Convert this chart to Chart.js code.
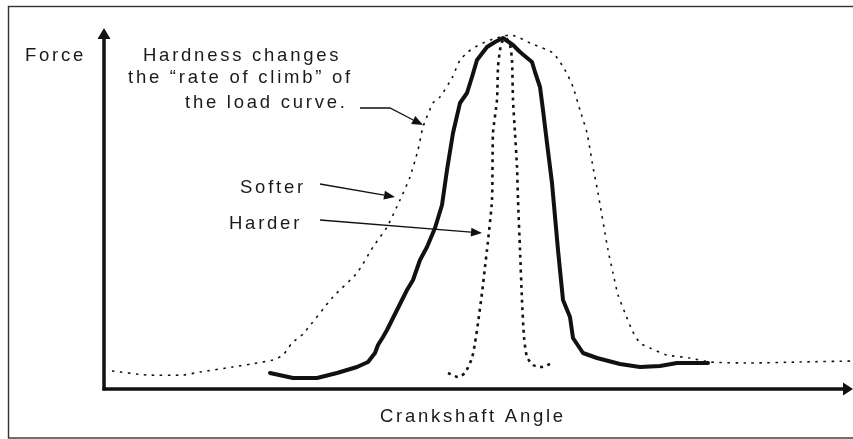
<!DOCTYPE html>
<html>
<head>
<meta charset="utf-8">
<script src="https://cdn.jsdelivr.net/npm/chart.js@4"></script>
<style>
  html, body { margin: 0; padding: 0; background: #fff; }
  canvas { display: block; }
</style>
</head>
<body>
<canvas id="chartLoad" width="853" height="439"></canvas>
<script>
// angle = distance along the crankshaft axis, force = height above it (arbitrary units)
const softerAngle = [8, 43, 79, 96, 129, 153, 169, 179, 188, 199, 229, 253, 269, 283, 296, 306, 314, 319, 329, 336, 348, 356, 364, 371, 379, 389, 406, 416, 426, 449, 461, 469, 476, 483, 489, 494, 504, 509, 514, 521, 528, 536, 546, 563, 586, 606, 646, 696, 749];
const softerForce = [18, 14, 14, 17, 22, 26, 29, 34, 46, 55, 92, 116, 142, 162, 189, 212, 239, 262, 286, 292, 311, 329, 337, 342, 346, 350, 354, 351, 346, 336, 319, 302, 279, 256, 222, 196, 139, 116, 94, 76, 59, 46, 41, 34, 31, 27, 26, 27, 28];

const normalAngle = [166, 189, 213, 233, 253, 264, 271, 274, 279, 283, 293, 303, 309, 316, 323, 331, 338, 343, 349, 356, 363, 368, 373, 383, 391, 399, 409, 416, 428, 431, 436, 439, 443, 448, 454, 459, 466, 469, 479, 493, 516, 536, 556, 573, 604];
const normalForce = [16, 11, 11, 16, 22, 27, 36, 44, 52, 59, 79, 99, 109, 129, 142, 161, 184, 219, 256, 286, 296, 312, 329, 342, 347, 351, 344, 337, 327, 317, 302, 279, 246, 206, 139, 89, 72, 51, 36, 31, 25, 22, 23, 26, 26];

const harderAngle = [344, 354, 361, 368, 371, 374, 378, 381, 383, 388, 389, 393, 394, 396, 398, 402, 406, 408, 409, 411, 413, 414, 416, 418, 420, 423, 429, 438, 446];
const harderForce = [16, 12, 16, 31, 46, 66, 96, 122, 139, 189, 256, 289, 322, 339, 347, 351, 344, 329, 289, 256, 222, 189, 139, 89, 52, 32, 24, 22, 25];

const axisLabels = ["Force", "Crankshaft Angle"];
const noteLines = ["Hardness changes", "the \u201crate of climb\u201d of", "the load curve."];
const curveLabels = ["Softer", "Harder"];

const toPoints = (xs, ys) => xs.map((x, i) => ({ x: x, y: ys[i] }));

const ink = "#111";
const FONT = '18.5px "Liberation Sans", Arial, sans-serif';

function spacedText(ctx, text, x, y, spacing) {
  let cx = x;
  for (const ch of text) {
    ctx.fillText(ch, cx, y);
    cx += ctx.measureText(ch).width + spacing;
  }
}

function arrow(ctx, pts, len, half, width) {
  ctx.lineWidth = width;
  ctx.beginPath();
  const n = pts.length;
  const tip = pts[n - 1], prev = pts[n - 2];
  const ang = Math.atan2(tip[1] - prev[1], tip[0] - prev[0]);
  const bx = tip[0] - Math.cos(ang) * len, by = tip[1] - Math.sin(ang) * len;
  ctx.moveTo(pts[0][0], pts[0][1]);
  for (let i = 1; i < n - 1; i++) ctx.lineTo(pts[i][0], pts[i][1]);
  ctx.lineTo(bx, by);
  ctx.stroke();
  ctx.beginPath();
  ctx.moveTo(tip[0], tip[1]);
  ctx.lineTo(bx + Math.sin(ang) * half, by - Math.cos(ang) * half);
  ctx.lineTo(bx - Math.sin(ang) * half, by + Math.cos(ang) * half);
  ctx.closePath();
  ctx.fill();
}

const decor = {
  id: "decor",
  beforeDatasetsDraw(chart) {
    const ctx = chart.ctx;
    const a = chart.chartArea;
    ctx.save();
    ctx.strokeStyle = ink;
    ctx.fillStyle = ink;

    // frame
    ctx.strokeStyle = "#333";
    ctx.lineWidth = 1.4;
    ctx.strokeRect(8.5, 6.5, 870, 431.5);

    // axes with arrow heads
    ctx.strokeStyle = ink;
    ctx.lineCap = "butt";
    arrow(ctx, [[a.left, a.bottom + 1.5], [a.left, a.top]], 11, 6.5, 3.5);
    arrow(ctx, [[a.left - 1.5, a.bottom], [a.right + 1, a.bottom]], 10, 6.5, 3.5);

    // texts
    ctx.fillStyle = "#1a1a1a";
    ctx.font = FONT;
    ctx.textBaseline = "alphabetic";
    const ls = 2.75;
    spacedText(ctx, axisLabels[0], 25, 61, ls);
    spacedText(ctx, axisLabels[1], 380, 422, ls);
    spacedText(ctx, noteLines[0], 143, 61, ls);
    spacedText(ctx, noteLines[1], 128, 83, ls);
    spacedText(ctx, noteLines[2], 185, 108, ls);
    spacedText(ctx, curveLabels[0], 240, 193, ls);
    spacedText(ctx, curveLabels[1], 229, 229, ls);

    // pointer arrows
    ctx.fillStyle = ink;
    arrow(ctx, [[360, 108], [390, 108], [423, 125]], 11, 4.5, 1.3);
    arrow(ctx, [[320, 184], [395, 197]], 11, 4.5, 1.3);
    arrow(ctx, [[320, 220], [482, 233]], 11, 4.5, 1.3);
    ctx.restore();
  }
};

new Chart(document.getElementById("chartLoad"), {
  type: "line",
  data: {
    datasets: [
      {
        label: "Softer",
        data: toPoints(softerAngle, softerForce),
        borderColor: ink,
        borderWidth: 1.6,
        borderDash: [2.5, 5.5],
        pointRadius: 0,
        tension: 0.2,
        clip: false
      },
      {
        label: "Normal",
        data: toPoints(normalAngle, normalForce),
        borderColor: ink,
        borderWidth: 4,
        borderJoinStyle: "round",
        borderCapStyle: "round",
        pointRadius: 0,
        tension: 0,
        clip: false
      },
      {
        label: "Harder",
        data: toPoints(harderAngle, harderForce),
        borderColor: ink,
        borderWidth: 2.6,
        borderDash: [3, 4.5],
        pointRadius: 0,
        tension: 0.2,
        clip: false
      }
    ]
  },
  options: {
    responsive: false,
    animation: false,
    devicePixelRatio: 1,
    layout: { padding: { left: 104, top: 28, right: 1, bottom: 50 } },
    plugins: { legend: { display: false }, tooltip: { enabled: false } },
    scales: {
      x: { type: "linear", min: 0, max: 748, display: false },
      y: { type: "linear", min: 0, max: 361, display: false }
    }
  },
  plugins: [decor]
});
</script>
</body>
</html>
